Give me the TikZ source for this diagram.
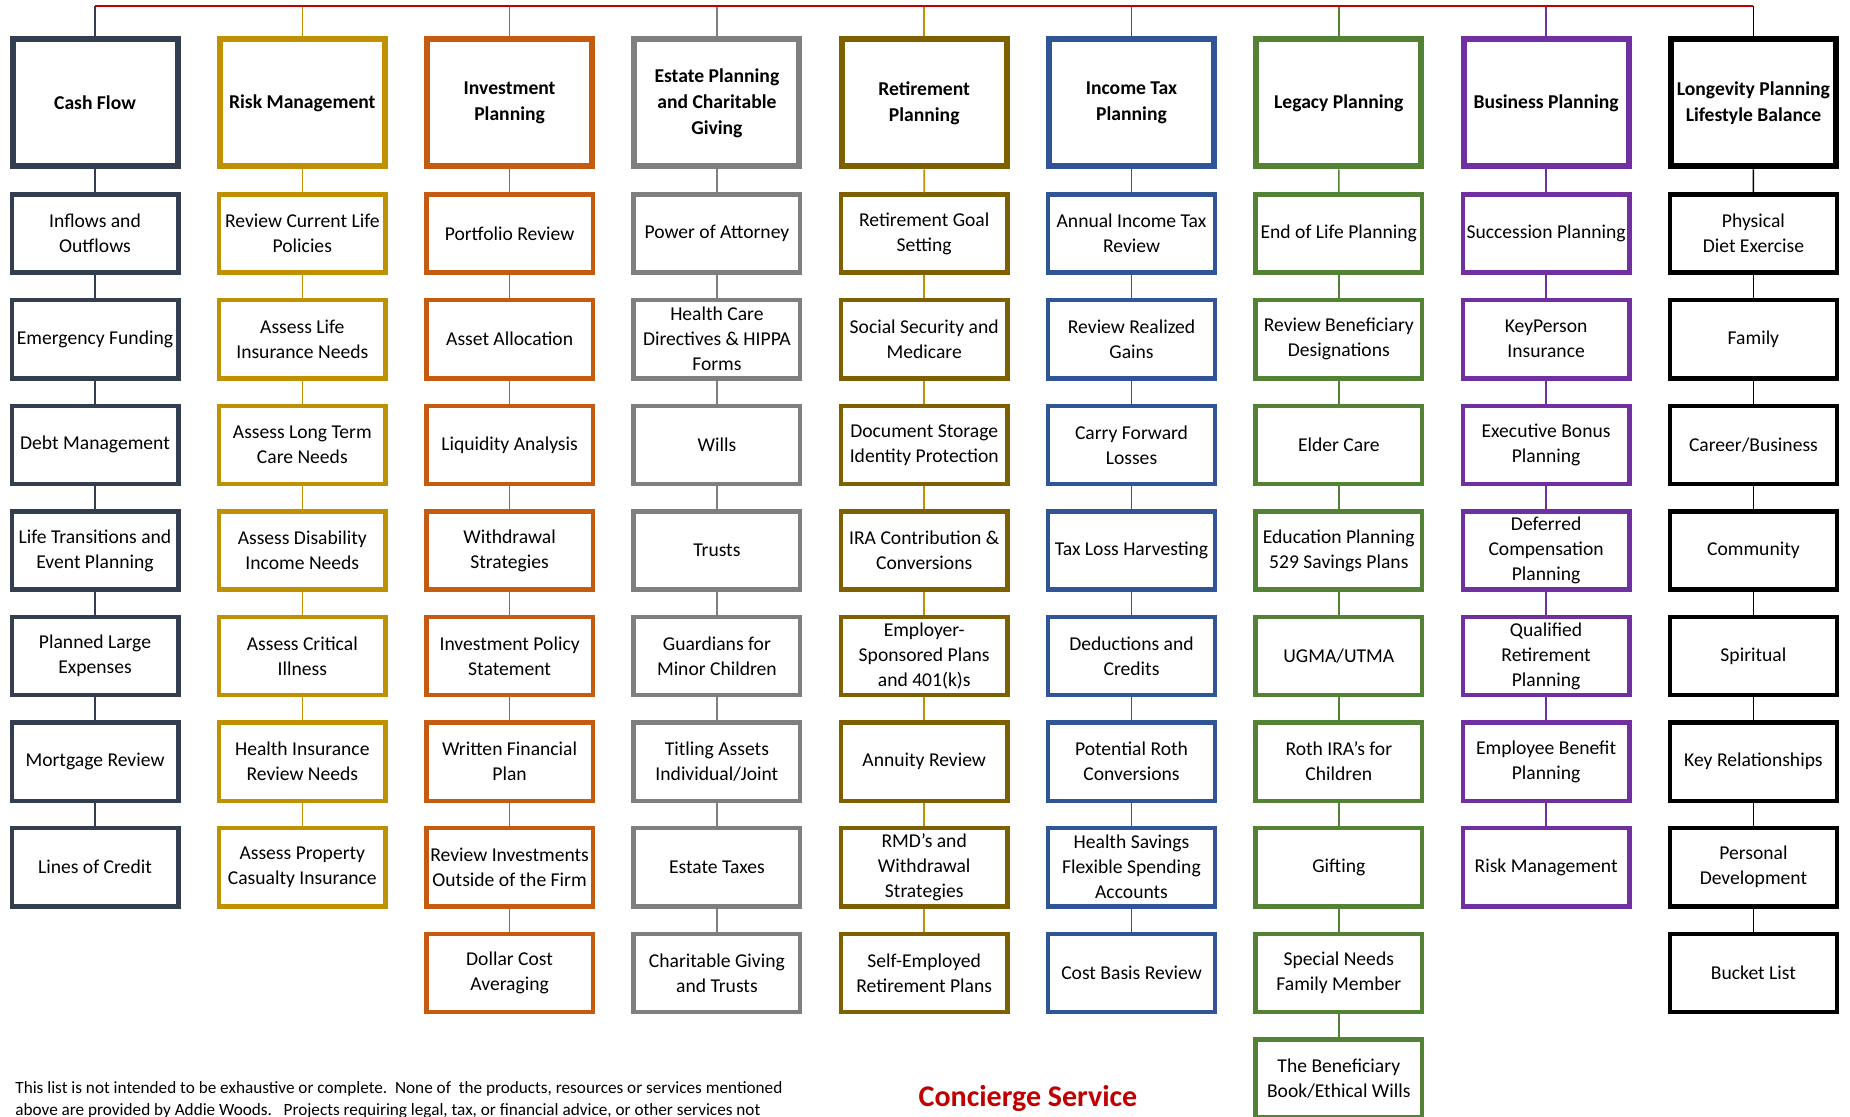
\documentclass[tikz,border=0pt]{standalone}
\usepackage{fontspec}
\setmainfont{Carlito}
\usepackage{tikz}
\definecolor{cashc}{HTML}{333F50}
\definecolor{riskc}{HTML}{BF9000}
\definecolor{investc}{HTML}{C55A11}
\definecolor{estatec}{HTML}{7F7F7F}
\definecolor{retirec}{HTML}{7F6000}
\definecolor{taxc}{HTML}{2F5597}
\definecolor{legacyc}{HTML}{548235}
\definecolor{bizc}{HTML}{7030A0}
\definecolor{lifec}{HTML}{000000}
\definecolor{topc}{HTML}{C00000}

\begin{document}
\begin{tikzpicture}[x=0.5pt, y=-0.5pt,
  head/.style={draw, line width=3pt, minimum width=82.5pt, minimum height=63.5pt,
    inner sep=1pt, align=center, font=\fontsize{9.8}{13}\selectfont\bfseries},
  item/.style={draw, line width=2.2pt, minimum width=83.3pt, minimum height=39.1pt,
    inner sep=1pt, align=center, font=\fontsize{9.8}{12.5}\selectfont},
  link/.style={line width=0.8pt}]
  \useasboundingbox (0,0) rectangle (1850,1117);
  \coordinate (top) at (0,6);
  % headers, one per column
  \foreach \col/\head [count=\c] in {cashc/{Cash Flow}, riskc/{Risk Management},
      investc/{Investment\\Planning}, estatec/{Estate Planning\\and Charitable\\Giving},
      retirec/{Retirement\\Planning}, taxc/{Income Tax\\Planning},
      legacyc/{Legacy Planning}, bizc/{Business Planning},
      lifec/{Longevity Planning\\Lifestyle Balance}}{
    \node[head, draw=\col] (h\c) at ({95+(\c-1)*207.3},103) {\head};
  }
  % column 1
  \foreach \txt [count=\r] in {{Inflows and\\Outflows}, {Emergency Funding},
      {Debt Management}, {Life Transitions and\\Event Planning},
      {Planned Large\\Expenses}, {Mortgage Review}, {Lines of Credit}}
    \node[item, draw=cashc] (c1-\r) at (95,{233.6+(\r-1)*105.6}) {\txt};
  % column 2
  \foreach \txt [count=\r] in {{Review Current Life\\Policies}, {Assess Life\\Insurance Needs},
      {Assess Long Term\\Care Needs}, {Assess Disability\\Income Needs},
      {Assess Critical\\Illness}, {Health Insurance\\Review Needs},
      {Assess Property\\Casualty Insurance}}
    \node[item, draw=riskc] (c2-\r) at (302.3,{233.6+(\r-1)*105.6}) {\txt};
  % column 3
  \foreach \txt [count=\r] in {{Portfolio Review}, {Asset Allocation}, {Liquidity Analysis},
      {Withdrawal\\Strategies}, {Investment Policy\\Statement}, {Written Financial\\Plan},
      {Review Investments\\Outside of the Firm}, {Dollar Cost\\Averaging}}
    \node[item, draw=investc] (c3-\r) at (509.6,{233.6+(\r-1)*105.6}) {\txt};
  % column 4
  \foreach \txt [count=\r] in {{Power of Attorney}, {Health Care\\Directives \& HIPPA\\Forms},
      {Wills}, {Trusts}, {Guardians for\\Minor Children}, {Titling Assets\\Individual/Joint},
      {Estate Taxes}, {Charitable Giving\\and Trusts}}
    \node[item, draw=estatec] (c4-\r) at (716.9,{233.6+(\r-1)*105.6}) {\txt};
  % column 5
  \foreach \txt [count=\r] in {{Retirement Goal\\Setting}, {Social Security and\\Medicare},
      {Document Storage\\Identity Protection}, {IRA Contribution \&\\Conversions},
      {Employer-\\Sponsored Plans\\and 401(k)s}, {Annuity Review},
      {RMD's and\\Withdrawal\\Strategies}, {Self-Employed\\Retirement Plans}}
    \node[item, draw=retirec] (c5-\r) at (924.2,{233.6+(\r-1)*105.6}) {\txt};
  % column 6
  \foreach \txt [count=\r] in {{Annual Income Tax\\Review}, {Review Realized\\Gains},
      {Carry Forward\\Losses}, {Tax Loss Harvesting}, {Deductions and\\Credits},
      {Potential Roth\\Conversions}, {Health Savings\\Flexible Spending\\Accounts},
      {Cost Basis Review}}
    \node[item, draw=taxc] (c6-\r) at (1131.5,{233.6+(\r-1)*105.6}) {\txt};
  % column 7
  \foreach \txt [count=\r] in {{End of Life Planning}, {Review Beneficiary\\Designations},
      {Elder Care}, {Education Planning\\529 Savings Plans}, {UGMA/UTMA},
      {Roth IRA's for\\Children}, {Gifting}, {Special Needs\\Family Member},
      {The Beneficiary\\Book/Ethical Wills}}
    \node[item, draw=legacyc] (c7-\r) at (1338.8,{233.6+(\r-1)*105.6}) {\txt};
  % column 8
  \foreach \txt [count=\r] in {{Succession Planning}, {KeyPerson\\Insurance},
      {Executive Bonus\\Planning}, {Deferred\\Compensation\\Planning},
      {Qualified\\Retirement\\Planning}, {Employee Benefit\\Planning}, {Risk Management}}
    \node[item, draw=bizc] (c8-\r) at (1546.1,{233.6+(\r-1)*105.6}) {\txt};
  % column 9
  \foreach \txt [count=\r] in {{Physical\\Diet Exercise}, {Family}, {Career/Business},
      {Community}, {Spiritual}, {Key Relationships}, {Personal\\Development}, {Bucket List}}
    \node[item, draw=lifec] (c9-\r) at (1753.4,{233.6+(\r-1)*105.6}) {\txt};
  % connectors: column/number of items/line colour
  \foreach \c/\n/\lc in {1/7/cashc, 2/7/riskc, 3/8/investc, 4/8/estatec, 5/8/riskc,
      6/8/taxc, 7/9/legacyc, 8/7/bizc, 9/8/lifec}{
    \draw[link, \lc] (h\c.north |- top) -- (h\c.north);
    \draw[link, \lc] (h\c) -- (c\c-1);
    \foreach \r in {2,...,\n}{
      \pgfmathtruncatemacro\p{\r-1}
      \draw[link, \lc] (c\c-\p) -- (c\c-\r);
    }
  }
  \draw[line width=1pt, topc] (h1.north |- top) -- (h9.north |- top);
  % footer
  \node[anchor=north west, align=left, inner sep=0, font=\fontsize{8.6}{11.2}\selectfont]
    (note) at (15,1081) {This list is not intended to be exhaustive or complete.\ \ None of\ \ the products, resources or services mentioned\\
    above are provided by Addie Woods.\ \ \ Projects requiring legal, tax, or financial advice, or other services not};
  \node[font=\fontsize{15}{18}\selectfont\bfseries, text=topc] (title) at (1028,1099) {Concierge Service};
\end{tikzpicture}
\end{document}
